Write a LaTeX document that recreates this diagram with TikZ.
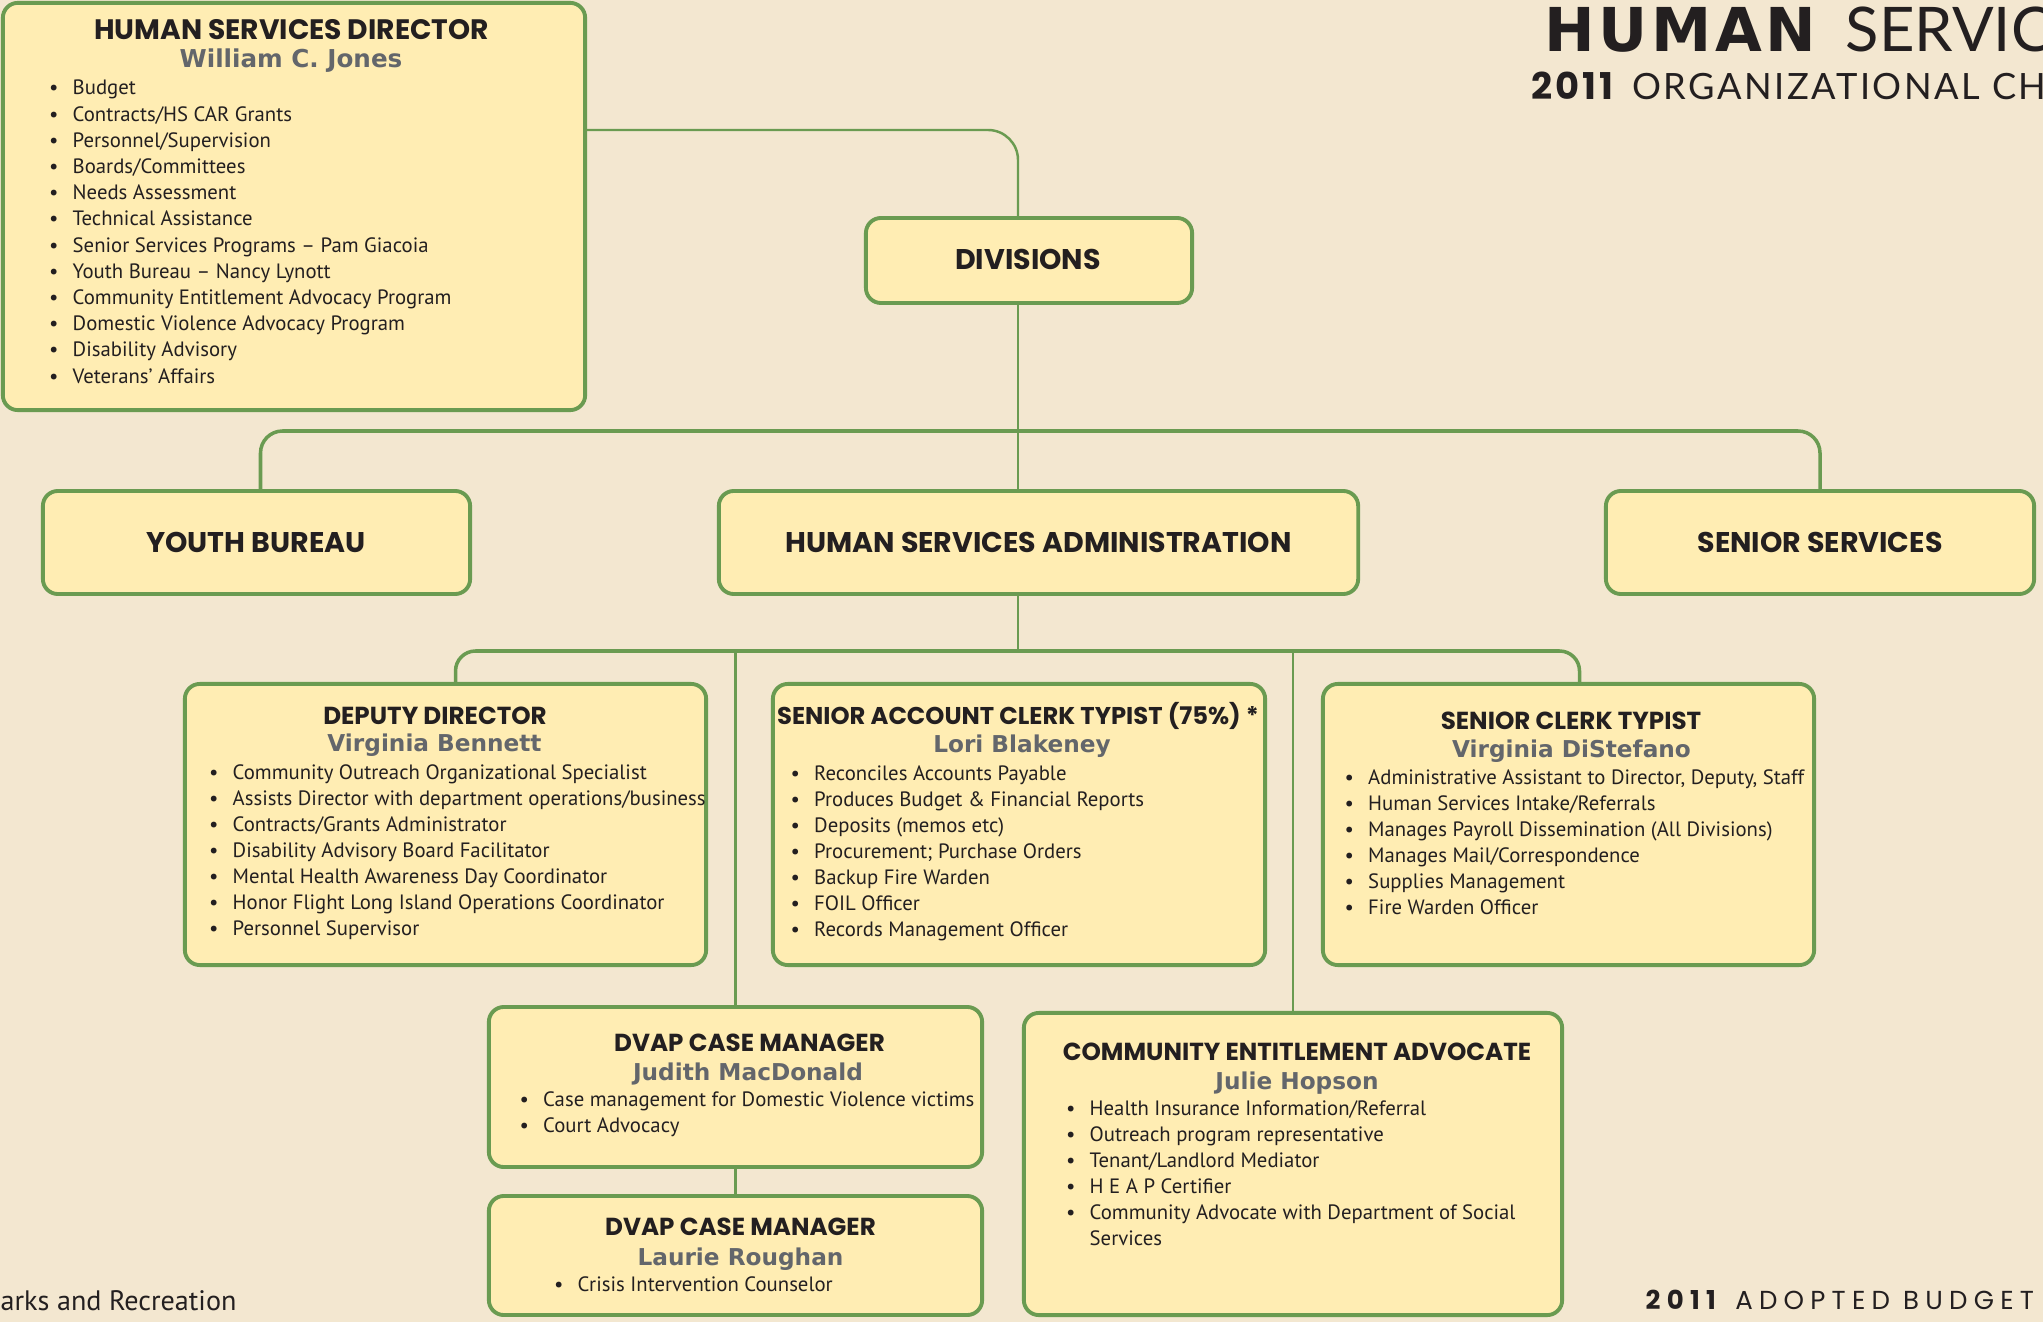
\documentclass[tikz,border=0pt]{standalone}
\usepackage{fontspec}
\setmainfont{PT Sans}
\newfontfamily\headfont{Poppins}
\newfontfamily\namefont{DejaVu Sans}
\newfontfamily\pagefont{Lato}
\definecolor{pagebg}{HTML}{F3E7D0}
\definecolor{boxfill}{HTML}{FFEDB3}
\definecolor{boxline}{HTML}{6A9B51}
\definecolor{namegray}{HTML}{63666B}
\definecolor{ink}{HTML}{231F20}
\tikzset{
  org box/.style={draw=boxline,fill=boxfill,line width=1.1pt,rounded corners=0.15cm,inner sep=0pt},
  org head/.style={anchor=base,inner sep=0pt,text=ink,font=\headfont\bfseries\fontsize{7}{8}\selectfont},
  org big head/.style={org head,font=\headfont\bfseries\fontsize{8.1}{9}\selectfont},
  org name/.style={anchor=base,inner sep=0pt,text=namegray,font=\namefont\bfseries\fontsize{6.6}{8}\selectfont},
  org item/.style={anchor=base west,inner sep=0pt,text=ink,font=\fontsize{5.9}{7}\selectfont},
  org link/.style={draw=boxline,line width=0.7pt},
  org bus/.style={draw=boxline,line width=1pt,rounded corners=0.22cm},
  page text/.style={anchor=base west,inner sep=0pt,text=ink}
}
\newcommand{\orgdot}{\makebox[0.235cm][l]{\textbullet}}

\begin{document}
\begin{tikzpicture}[x=0.01cm,y=-0.01cm]
  \useasboundingbox (0,0) rectangle (2043,1322);
  \fill[pagebg] (0,0) rectangle (2043,1322);
  % page title and footer
  \node[page text,font=\namefont\bfseries\fontsize{17.2}{20}\selectfont\addfontfeatures{LetterSpace=6}] (title) at (1544,52) {HUMAN};
  \node[page text,font=\pagefont\fontsize{17.5}{20}\selectfont] (title-rest) at (1845,52) {SERVIC};
  \node[page text,font=\headfont\bfseries\fontsize{10.5}{12}\selectfont\addfontfeatures{LetterSpace=8}] (subtitle) at (1531,100) {2011};
  \node[page text,font=\pagefont\fontsize{10.3}{12}\selectfont\addfontfeatures{LetterSpace=7}] (subtitle-rest) at (1631.5,100) {ORGANIZATIONAL CH};
  \node[page text,font=\fontsize{8}{9}\selectfont] (dept) at (0,1310) {arks and Recreation};
  \node[page text,font=\headfont\fontsize{7.4}{9}\selectfont\addfontfeatures{LetterSpace=24}] (budget) at (1645,1309) {\textbf{2011} ADOPTED BUDGET};

  % director
  \node[org box,minimum width=5.82cm,minimum height=4.07cm] (dir) at (294,206.5) {};
  \node[org big head,font=\headfont\bfseries\fontsize{8}{9}\selectfont] (dir-head) at (291.5,40) {HUMAN SERVICES DIRECTOR};
  \node[org name,font=\namefont\bfseries\fontsize{7}{8}\selectfont] (dir-name) at (291,67.5) {William C. Jones};
  \foreach \txt [count=\i] in {Budget, Contracts/HS CAR Grants, Personnel/Supervision,
      Boards/Committees, Needs Assessment, Technical Assistance,
      Senior Services Programs -- Pam Giacoia, Youth Bureau -- Nancy Lynott,
      Community Entitlement Advocacy Program, Domestic Violence Advocacy Program,
      Disability Advisory, Veterans' Affairs}
    \node[org item] (dir-\i) at (48.5,{95+26.2*(\i-1)}) {\orgdot\txt};

  % divisions row
  \node[org box,minimum width=3.26cm,minimum height=0.85cm] (div) at (1029,260.5) {};
  \node[org big head] (div-head) at (1028,270) {DIVISIONS};
  \node[org box,minimum width=4.27cm,minimum height=1.03cm] (yb) at (256.5,542.5) {};
  \node[org big head] (yb-head) at (256,553) {YOUTH BUREAU};
  \node[org box,minimum width=6.39cm,minimum height=1.03cm] (hsa) at (1038.5,542.5) {};
  \node[org big head] (hsa-head) at (1038.5,553) {HUMAN SERVICES ADMINISTRATION};
  \node[org box,minimum width=4.28cm,minimum height=1.03cm] (ss) at (1820,542.5) {};
  \node[org big head] (ss-head) at (1820,553) {SENIOR SERVICES};

  % administration staff
  \node[org box,minimum width=5.21cm,minimum height=2.81cm] (dep) at (445.5,824.5) {};
  \node[org head] (dep-head) at (435,724) {DEPUTY DIRECTOR};
  \node[org name] (dep-name) at (434.5,751.5) {Virginia Bennett};
  \foreach \txt [count=\i] in {Community Outreach Organizational Specialist,
      Assists Director with department operations/business,
      Contracts/Grants Administrator, Disability Advisory Board Facilitator,
      Mental Health Awareness Day Coordinator,
      Honor Flight Long Island Operations Coordinator, Personnel Supervisor}
    \node[org item] (dep-\i) at (208.5,{779+26.1*(\i-1)}) {\orgdot\txt};

  \node[org box,minimum width=4.92cm,minimum height=2.81cm] (sact) at (1019,824.5) {};
  \node[org head,font=\headfont\bfseries\fontsize{6.9}{8}\selectfont] (sact-head) at (1018,724) {SENIOR ACCOUNT CLERK TYPIST (75\%) *};
  \node[org name] (sact-name) at (1022,752) {Lori Blakeney};
  \foreach \txt [count=\i] in {Reconciles Accounts Payable,
      Produces Budget \& Financial Reports, Deposits (memos etc),
      Procurement; Purchase Orders, Backup Fire Warden, FOIL Officer,
      Records Management Officer}
    \node[org item] (sact-\i) at (790,{780+26.1*(\i-1)}) {\orgdot\txt};

  \node[org box,minimum width=4.91cm,minimum height=2.81cm] (sct) at (1568.5,824.5) {};
  \node[org head] (sct-head) at (1571,729) {SENIOR CLERK TYPIST};
  \node[org name] (sct-name) at (1571.5,757) {Virginia DiStefano};
  \foreach \txt [count=\i] in {{Administrative Assistant to Director, Deputy, Staff},
      Human Services Intake/Referrals, Manages Payroll Dissemination (All Divisions),
      Manages Mail/Correspondence, Supplies Management, Fire Warden Officer}
    \node[org item] (sct-\i) at (1344,{784.3+26.1*(\i-1)}) {\orgdot\txt};

  % case managers
  \node[org box,minimum width=4.93cm,minimum height=1.60cm] (dvap1) at (735.5,1087) {};
  \node[org head] (dvap1-head) at (749.5,1051.5) {DVAP CASE MANAGER};
  \node[org name] (dvap1-name) at (748,1080.5) {Judith MacDonald};
  \foreach \txt [count=\i] in {Case management for Domestic Violence victims, Court Advocacy}
    \node[org item] (dvap1-\i) at (519,{1106.5+26.1*(\i-1)}) {\orgdot\txt};

  \node[org box,minimum width=4.93cm,minimum height=1.19cm] (dvap2) at (735.5,1255.5) {};
  \node[org head] (dvap2-head) at (740.5,1235) {DVAP CASE MANAGER};
  \node[org name] (dvap2-name) at (740.5,1265) {Laurie Roughan};
  \node[org item] (dvap2-1) at (553.5,1291) {\orgdot Crisis Intervention Counselor};

  \node[org box,minimum width=5.38cm,minimum height=3.02cm] (cea) at (1293,1164) {};
  \node[org head] (cea-head) at (1297,1060) {COMMUNITY ENTITLEMENT ADVOCATE};
  \node[org name] (cea-name) at (1297,1089) {Julie Hopson};
  \foreach \txt [count=\i] in {Health Insurance Information/Referral,
      Outreach program representative, Tenant/Landlord Mediator,
      H E A P Certifier, Community Advocate with Department of Social}
    \node[org item] (cea-\i) at (1065.5,{1115+26.1*(\i-1)}) {\orgdot\txt};
  \node[org item] (cea-wrap) at (1089,1245.5) {Services};

  % connectors
  \coordinate (dirout) at (585,130);
  \coordinate (spine) at (1018,431);
  \coordinate (hub) at (1018,651);
  \draw[org link,rounded corners=0.3cm] (dirout) -| (div.north -| spine);
  \draw[org link] (div.south -| spine) -- (hsa.north -| spine);
  \draw[org bus] ([xshift=0.04cm]yb.north) |- (spine) -| (ss.north);
  \draw[org link] (hsa.south -| hub) -- (hub);
  \draw[org bus,rounded corners=0.2cm] ([xshift=0.1cm]dep.north) |- (hub) -| ([xshift=0.11cm]sct.north);
  \draw[org link] (hub -| dvap1.north) -- (dvap1.north);
  \draw[org link] (hub -| cea.north) -- (cea.north);
  \draw[org link] (dvap1.south) -- (dvap2.north);
\end{tikzpicture}
\end{document}
